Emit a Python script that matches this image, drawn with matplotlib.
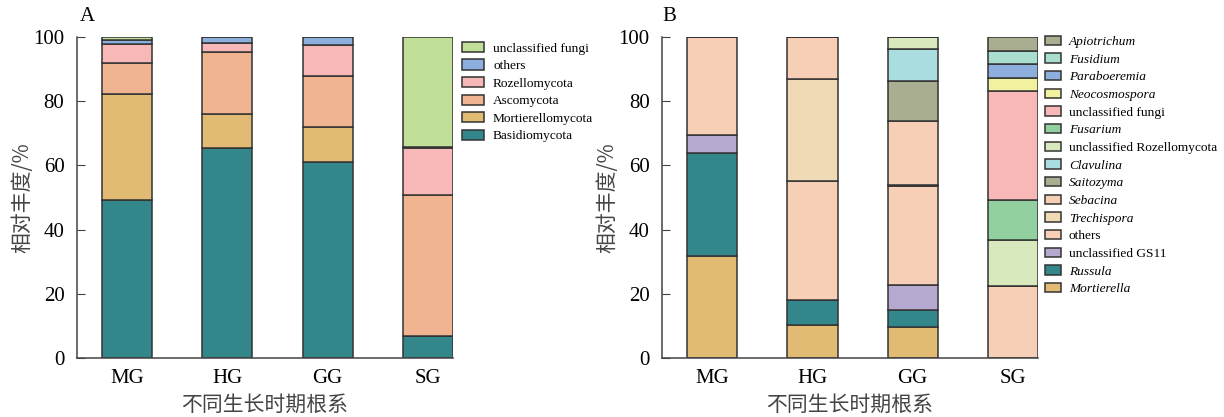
import matplotlib
matplotlib.use("Agg")
import matplotlib.pyplot as plt
import numpy as np

plt.rcParams["font.family"] = ["Liberation Serif", "DejaVu Serif"]

groups = ["MG", "HG", "GG", "SG"]

# panel A: phylum level (bottom -> top)
phyla = ["Basidiomycota", "Mortierellomycota", "Ascomycota",
         "Rozellomycota", "others", "unclassified fungi"]
phyla_vals = [
    [49.2, 65.5, 61.1, 6.9],
    [33.0, 10.6, 10.8, 0.0],
    [9.7, 19.2, 16.1, 44.0],
    [5.8, 3.0, 9.6, 14.6],
    [1.3, 1.7, 2.4, 0.4],
    [1.0, 0.0, 0.0, 34.1],
]
phyla_colors = ["#33868a", "#e1ba73", "#f0b490", "#f8b8b8", "#8cafdd", "#c2df9a"]

# panel B: genus level (bottom -> top)
genera = ["Mortierella", "Russula", "unclassified GS11", "others", "Trechispora",
          "Sebacina", "Saitozyma", "Clavulina", "unclassified Rozellomycota",
          "Fusarium", "unclassified fungi", "Neocosmospora", "Paraboeremia",
          "Fusidium", "Apiotrichum"]
genera_vals = [
    [31.9, 10.2, 9.8, 0.0],
    [32.1, 7.8, 5.2, 0.0],
    [5.5, 0.0, 7.6, 0.0],
    [30.5, 37.1, 31.1, 22.4],
    [0.0, 32.0, 0.3, 0.0],
    [0.0, 12.9, 19.8, 0.0],
    [0.0, 0.0, 12.5, 0.0],
    [0.0, 0.0, 9.9, 0.0],
    [0.0, 0.0, 3.8, 14.3],
    [0.0, 0.0, 0.0, 12.5],
    [0.0, 0.0, 0.0, 34.1],
    [0.0, 0.0, 0.0, 4.1],
    [0.0, 0.0, 0.0, 4.1],
    [0.0, 0.0, 0.0, 4.1],
    [0.0, 0.0, 0.0, 4.4],
]
genera_colors = ["#e1ba73", "#33868a", "#b5a9cf", "#f7ceb6", "#f0dab6",
                 "#f7ceb6", "#a9ae91", "#a9dde0", "#d8e9be", "#93d09f",
                 "#f8b8b8", "#f2f1a0", "#8cafdd", "#a9ddd0", "#a9ae91"]
italic_names = {"Mortierella", "Russula", "Trechispora", "Sebacina", "Saitozyma",
                "Clavulina", "Fusarium", "Neocosmospora", "Paraboeremia",
                "Fusidium", "Apiotrichum"}

xlabel = "不同生长时期根系"
ylabel = "相对丰度/%"
cjk = ["Noto Sans CJK SC", "DejaVu Sans"]

fig = plt.figure(figsize=(12.24, 4.17), dpi=100)
axA = fig.add_axes([0.0629, 0.1415, 0.3072, 0.7695])
axB = fig.add_axes([0.5409, 0.1415, 0.3072, 0.7695])


def stack(ax, names, vals, colors):
    x = np.arange(len(groups))
    bottom = np.zeros(len(groups))
    handles = []
    for name, v, c in zip(names, vals, colors):
        v = np.array(v)
        b = ax.bar(x, v, 0.5, bottom=bottom, color=c, edgecolor="#333333",
                   linewidth=1.1, label=name)
        bottom += v
        handles.append(b)
    ax.set_xlim(-0.5, 3.25)
    ax.set_ylim(0, 100)
    ax.set_xticks(x)
    ax.set_xticklabels(groups, fontsize=15)
    ax.set_yticks(np.arange(0, 101, 20))
    ax.tick_params(axis="y", direction="in", length=6, pad=9, labelsize=15,
                   color="#444444")
    ax.tick_params(axis="x", length=0, pad=8)
    for s in ["top", "right"]:
        ax.spines[s].set_visible(False)
    for s in ["left", "bottom"]:
        ax.spines[s].set_color("#444444")
        ax.spines[s].set_linewidth(1.1)
    ax.set_xlabel(xlabel, family=cjk, fontsize=15, color="#444444", labelpad=4)
    ax.set_ylabel(ylabel, family=cjk, fontsize=15, color="#444444", labelpad=0)
    return handles


hA = stack(axA, phyla, phyla_vals, phyla_colors)
hB = stack(axB, genera, genera_vals, genera_colors)

axA.text(0.008, 1.035, "A", transform=axA.transAxes, fontsize=15, va="bottom")
axB.text(0.0, 1.035, "B", transform=axB.transAxes, fontsize=15, va="bottom")

legA = axA.legend(hA[::-1], phyla[::-1], loc="upper left", bbox_to_anchor=(1.025, 0.985),
                  frameon=False, fontsize=9.6, borderpad=0, borderaxespad=0,
                  handlelength=1.6, handleheight=0.8, handletextpad=0.7,
                  labelspacing=0.36)
legB = axB.legend(hB[::-1], genera[::-1], loc="upper left", bbox_to_anchor=(1.018, 1.005),
                  frameon=False, fontsize=9.6, borderpad=0, borderaxespad=0,
                  handlelength=1.2, handleheight=0.7, handletextpad=0.6,
                  labelspacing=0.4)
for t in legB.get_texts():
    if t.get_text() in italic_names:
        t.set_fontstyle("italic")

fig.savefig("out.png", dpi=100)
